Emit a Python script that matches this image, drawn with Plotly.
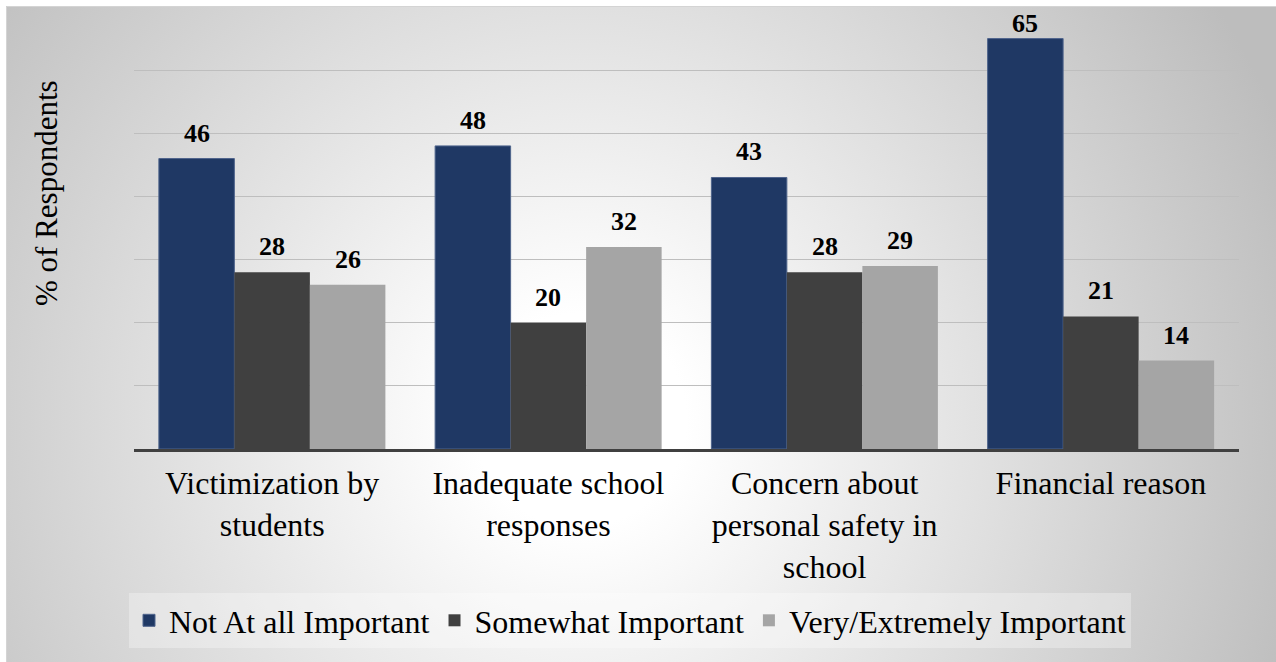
import base64
import plotly.graph_objects as go

# Survey data: share of respondents (%) by reason and importance rating
categories = ["Victimization by students", "Inadequate school responses",
              "Concern about personal safety in school", "Financial reason"]
tick_labels = ["Victimization by<br>students", "Inadequate school<br>responses",
               "Concern about<br>personal safety in<br>school", "Financial reason"]
series_names = ["Not At all Important", "Somewhat Important", "Very/Extremely Important"]
not_important = [46, 48, 43, 65]
somewhat_important = [28, 20, 28, 21]
very_important = [26, 32, 29, 14]
series_values = [not_important, somewhat_important, very_important]
colors = ["#1F3864", "#404040", "#A5A5A5"]
y_gridlines = [10, 20, 30, 40, 50, 60]
Y_MAX = 70

FONT = "Liberation Serif, serif"
W, H = 1276, 662
ML, MR, MT, MB = 134, 37, 7, 213
BARGAP = 0.18
PANEL = 6  # white inset around the chart panel (top/left)

plot_w = W - ML - MR
plot_h = H - MT - MB
px_per_unit = plot_h / Y_MAX

fig = go.Figure()
for name, vals, col in zip(series_names, series_values, colors):
    line = dict(width=1, color="#4F648C") if col == colors[0] else dict(width=0)
    fig.add_trace(go.Bar(
        x=categories, y=vals, name=name,
        marker=dict(color=col, line=line),
        hoverinfo="skip",
    ))

# value labels above each bar, kept inside the plot area near the top
LABEL_GAP = 9
LABEL_BOX = 33
bar_w = (1 - BARGAP) / len(series_values)
annotations = []
for j, vals in enumerate(series_values):
    offset = (j - (len(series_values) - 1) / 2) * bar_w
    for i, v in enumerate(vals):
        room = (Y_MAX - v) * px_per_unit - LABEL_BOX
        annotations.append(dict(
            x=i + offset, y=v, xref="x", yref="y", text=f"<b>{v}</b>",
            showarrow=False, xanchor="center", yanchor="bottom",
            yshift=min(LABEL_GAP, room),
            font=dict(family=FONT, size=26, color="#000000"),
        ))

# y-axis title
annotations.append(dict(
    x=(47 - ML) / plot_w, y=(H - MB - 193) / plot_h,
    xref="paper", yref="paper", text="% of Respondents", textangle=-90,
    showarrow=False, xanchor="center", yanchor="middle",
    font=dict(family=FONT, size=31, color="#000000"),
))

# radial gradient panel behind the chart
pw, ph = W - PANEL, H - PANEL
svg = (
    f'<svg xmlns="http://www.w3.org/2000/svg" width="{pw}" height="{ph}" '
    f'viewBox="0 0 {pw} {ph}" preserveAspectRatio="none">'
    '<defs><radialGradient id="g" gradientUnits="userSpaceOnUse" '
    f'cx="{580 - PANEL}" cy="{420 - PANEL}" r="760">'
    '<stop offset="0" stop-color="#ffffff"/>'
    '<stop offset="0.14" stop-color="#ffffff"/>'
    '<stop offset="1" stop-color="#bdbdbd"/>'
    '</radialGradient></defs>'
    f'<rect x="0" y="0" width="{pw}" height="{ph}" fill="url(#g)"/>'
    f'<path d="M0.5,{ph} V0.5 H{pw}" fill="none" stroke="#d4d4d4" stroke-width="1"/>'
    '</svg>'
)
src = "data:image/svg+xml;base64," + base64.b64encode(svg.encode()).decode()

fig.update_layout(
    width=W, height=H,
    margin=dict(l=ML, r=MR, t=MT, b=MB, autoexpand=False),
    paper_bgcolor="#ffffff",
    plot_bgcolor="rgba(0,0,0,0)",
    barmode="group", bargap=BARGAP, bargroupgap=0,
    font=dict(family=FONT, color="#000000"),
    images=[dict(
        source=src, xref="paper", yref="paper",
        x=(PANEL - ML) / plot_w, y=1 + (MT - PANEL) / plot_h,
        sizex=pw / plot_w, sizey=ph / plot_h,
        xanchor="left", yanchor="top", sizing="stretch", layer="below",
    )],
    xaxis=dict(
        tickmode="array", tickvals=categories, ticktext=tick_labels,
        tickfont=dict(family=FONT, size=32, color="#000000"),
        ticklabelstandoff=4,
        showline=True, linecolor="#404040", linewidth=3,
        ticks="", showgrid=False, zeroline=False, automargin=False,
    ),
    yaxis=dict(
        range=[0, Y_MAX], tickmode="array", tickvals=y_gridlines,
        showticklabels=False, ticks="", showgrid=True,
        gridcolor="#BEBEBE", gridwidth=1, zeroline=False, showline=False,
        automargin=False,
    ),
    legend=dict(
        orientation="h", x=(630 - ML) / plot_w, xanchor="center",
        y=-(593 - (H - MB)) / plot_h, yanchor="top",
        bgcolor="rgba(255,255,255,0.3)",
        font=dict(family=FONT, size=32, color="#000000"),
        itemclick=False, itemdoubleclick=False,
    ),
    annotations=annotations,
    showlegend=True,
)

fig.write_html("out.html")
